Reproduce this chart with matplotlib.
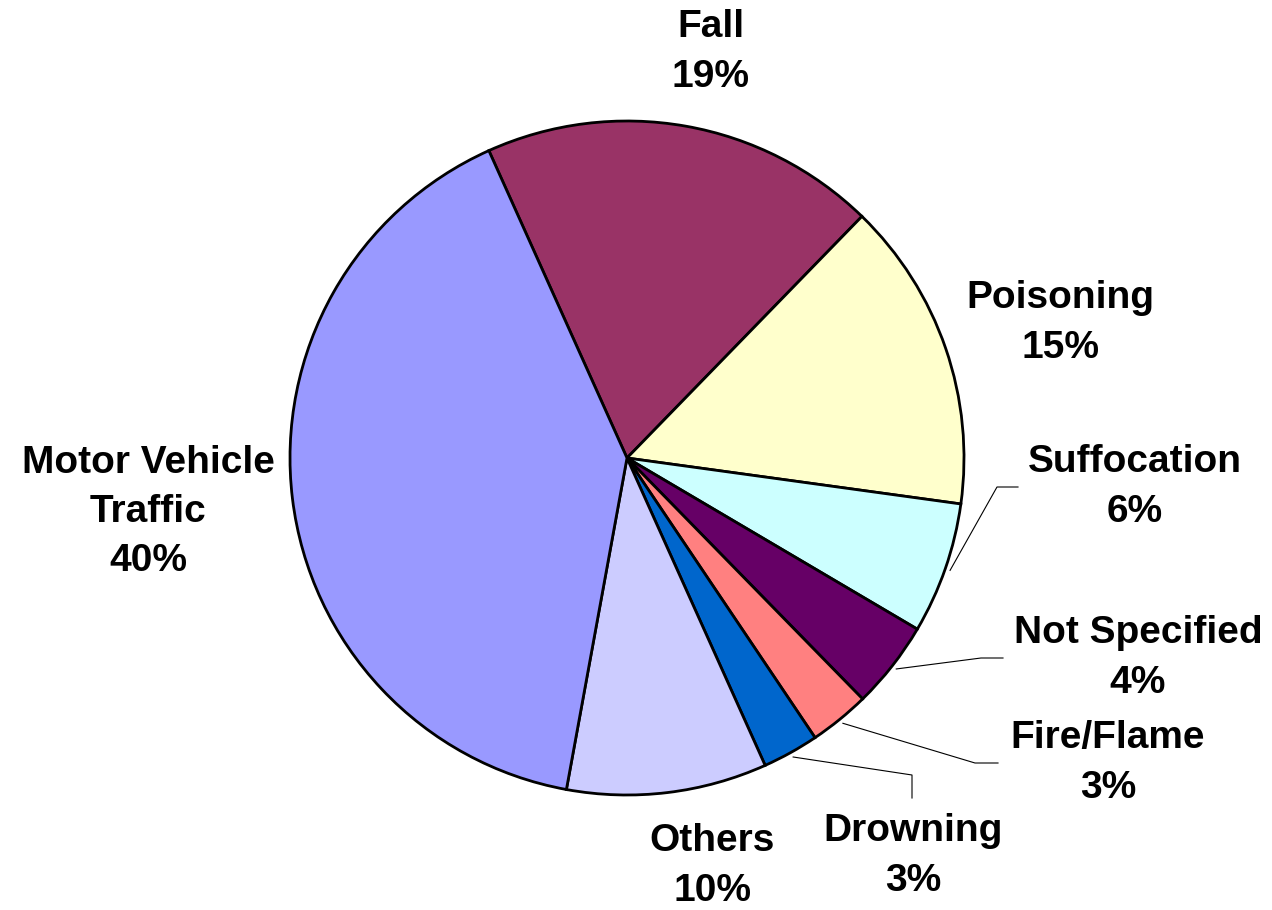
import numpy as np
import matplotlib.pyplot as plt

causes = ["Fall", "Poisoning", "Suffocation", "Not Specified", "Fire/Flame",
          "Drowning", "Others", "Motor Vehicle\nTraffic"]
shares = [19.0, 14.9, 6.3, 4.2, 2.9, 2.7, 9.6, 40.4]
colors = ["#993366", "#FFFFCC", "#CCFFFF", "#660066", "#FF8080",
          "#0066CC", "#CCCCFF", "#9999FF"]

# label centres in pixels from the top-left corner
label_pos = [(711, 52), (1060, 323), (1135, 487), (1138, 658), (1108, 763),
             (913, 856), (712, 866), (148, 512)]
# leader line elbows for the small slices
leaders = {2: [(997, 487), (1018, 487)], 3: [(981, 658), (1003, 658)],
           4: [(975, 763), (998, 763)], 5: [(912, 775), (912, 798)]}

W, H = 1272, 910
fig = plt.figure(figsize=(W / 100, H / 100), dpi=100)
ax = fig.add_axes([0, 0, 1, 1])
cx, cy, r = 627, H - 458, 337

wedges, _ = ax.pie(shares, colors=colors, startangle=114.2, counterclock=False,
                   center=(cx, cy), radius=r,
                   wedgeprops=dict(edgecolor="black", linewidth=2.0))
ax.set_xlim(0, W)
ax.set_ylim(0, H)
ax.set_aspect("equal")
ax.axis("off")

for i, (w, name, v) in enumerate(zip(wedges, causes, shares)):
    x, y = label_pos[i]
    ax.text(x, H - y, f"{name}\n{v:.0f}%", ha="center", va="center",
            fontsize=28, fontweight="bold", family="Liberation Sans",
            linespacing=1.47)
    if i in leaders:
        ang = np.deg2rad((w.theta1 + w.theta2) / 2)
        pts = [(cx + 1.015 * r * np.cos(ang), cy + 1.015 * r * np.sin(ang))]
        pts += [(px, H - py) for px, py in leaders[i]]
        xs, ys = zip(*pts)
        ax.plot(xs, ys, color="black", lw=0.8)

fig.savefig("out.png", dpi=100)
